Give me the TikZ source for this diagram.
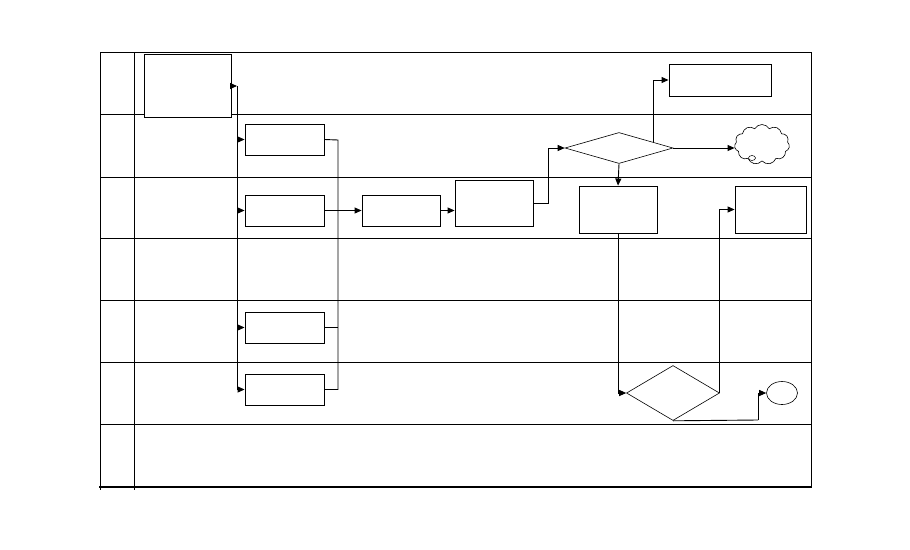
\documentclass[tikz,border=0pt]{standalone}
\usepackage{tikz}
\usetikzlibrary{
  arrows.meta,      % Triangle 箭头
  calc,             % 坐标计算
  positioning,      % 节点相对定位
  shapes.geometric, % 菱形、椭圆
  shapes.symbols    % 云形
}

\begin{document}
\begin{tikzpicture}[x=1pt, y=-1pt, line width=0.9pt,
  >={Triangle[length=7pt, width=6pt]},
  kuang/.style={draw, fill=white, inner sep=0pt, minimum width=#1},
  kuang/.default=79pt,
  panduan/.style={draw, fill=white, diamond, inner sep=0pt, line width=0.6pt},
  lian/.style={->}]
  % 画布大小（与原图一致）
  \useasboundingbox (0,0) rectangle (910,549);
  \def\zuo{100}
  \def\fen{134}
  \def\you{811}

  % 1. 泳道表格：横线与竖线
  \foreach \y in {52,114,177,238,300,362,424}
    \draw (\zuo,\y) -- (\you,\y);
  \draw[line width=2pt] (99,487) -- (812,487);
  \draw (\zuo,52) -- (\zuo,490);
  \draw (\fen,52) -- (\fen,490);
  \draw (\you,52) -- (\you,487);

  % 2. 各流程框
  \node[kuang=87pt, minimum height=63pt] (qi) at (187.5,85.5) {};
  \node[kuang, minimum height=31pt] (b1) at (284.5,139.5) {};
  \node[kuang, minimum height=31pt] (b2) at (284.5,210.5) {};
  \node[kuang, minimum height=31pt] (b3) at (284.5,327.5) {};
  \node[kuang, minimum height=31pt] (b4) at (284.5,389.5) {};
  \node[kuang=78pt, minimum height=31pt] (c) at (401,210.5) {};
  \node[kuang=78pt, minimum height=46pt] (d) at (494,203) {};
  \node[panduan, minimum width=108pt, minimum height=31pt] (pd1) at (619,148) {};
  \node[kuang=102pt, minimum height=32pt] (e) at (720,80) {};
  \node[cloud, draw, fill=white, cloud puffs=11, cloud puff arc=120, aspect=1.4,
        inner sep=0pt, minimum width=55pt, minimum height=40pt,
        line width=0.6pt] (yun) at (762,144.5) {};
  \node[ellipse, draw, fill=white, inner sep=0pt, minimum width=7pt, minimum height=5pt,
        line width=0.5pt] (pao) at (752,158) {};
  \node[kuang=78pt, minimum height=47pt] (f) at (618,209.5) {};
  \node[kuang=71pt, minimum height=47pt] (g) at (770.5,209.5) {};
  \node[panduan, minimum width=93pt, minimum height=55pt] (pd2) at (673,393) {};
  \node[ellipse, draw, inner sep=0pt, minimum width=31pt, minimum height=23pt,
        line width=0.6pt] (zhong) at (782,393) {};

  % 3. 连接线
  % 左侧总线
  \coordinate (zx) at (237,86);
  \draw[lian] (qi.east |- zx) -- (zx);
  \draw (zx) -- (zx |- b4.west);
  \foreach \n in {b1,b2,b3,b4}
    \draw[lian] (zx |- \n.west) -- (\n.west);
  % 右侧汇线
  \coordinate (yx) at (338,140);
  \draw (b1.east) -- (yx) -- (yx |- b4.east) -- (b4.east);
  \draw (b3.east) -- (yx |- b3.east);
  \draw[lian] (b2.east) -- (c.west);
  \draw[lian] (c.east) -- (c.east -| d.west);
  \coordinate (k1) at (548,203);
  \draw[lian] (d.east) -- (k1) |- (pd1.west);
  % 判断一的三个出口
  \draw[lian] (pd1.east) -- (pd1.east -| yun.west);
  \coordinate (k2) at ($(pd1.north)!0.63!(pd1.east)$);
  \draw[lian] (k2) |- (e.west);
  \draw[lian] (pd1.south) -- (f.north);
  % 判断二
  \draw[lian] (f.south) |- (pd2.west);
  \draw[lian] (pd2.east) |- (g.west);
  \coordinate (k3) at (758,420);
  \draw (pd2.south) -- (k3);
  \draw[lian] (k3) |- (zhong.west);
\end{tikzpicture}
\end{document}
